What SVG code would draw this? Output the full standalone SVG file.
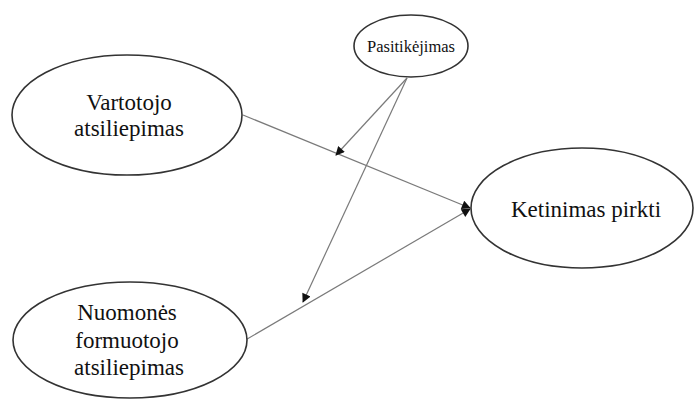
<svg xmlns="http://www.w3.org/2000/svg" width="695" height="399" viewBox="0 0 695 399">
<defs>
<marker id="arr" viewBox="0 0 10 10" refX="9" refY="5" markerWidth="10" markerHeight="9" markerUnits="userSpaceOnUse" orient="auto">
<path d="M0,0 L10,5 L0,10 z" fill="#111"/>
</marker>
<style>
.node ellipse{fill:#fff;stroke:#333;stroke-width:1.6}
.node text{fill:#111;text-anchor:middle}
.edge{stroke:#7a7a7a;stroke-width:1.2;fill:none;marker-end:url(#arr)}
</style>
</defs>
<rect width="695" height="399" fill="#fff"/>
<g id="connectors">
<line class="edge" x1="243" y1="115" x2="470" y2="208"/>
<line class="edge" x1="242" y1="342" x2="470" y2="209"/>
<line class="edge" x1="407" y1="78" x2="336" y2="155"/>
<line class="edge" x1="407" y1="78" x2="303" y2="302"/>
</g>
<g font-family="'Liberation Serif', 'Tinos', 'Times New Roman', 'DejaVu Serif', 'Noto Serif', serif">
<g id="pasitikejimas" class="node">
<ellipse cx="411" cy="46" rx="57" ry="31"/>
<text x="411" y="52" font-size="16.5">Pasitikėjimas</text>
</g>
<g id="vartotojo" class="node">
<ellipse cx="127" cy="115" rx="115" ry="60"/>
<text x="129" y="110" font-size="23">Vartotojo</text>
<text x="129" y="136" font-size="23">atsiliepimas</text>
</g>
<g id="ketinimas" class="node">
<ellipse cx="582" cy="208" rx="111" ry="60"/>
<text x="586" y="217" font-size="23">Ketinimas pirkti</text>
</g>
<g id="nuomones" class="node">
<ellipse cx="130" cy="340" rx="117" ry="58"/>
<text x="127" y="320" font-size="23">Nuomonės</text>
<text x="127" y="348" font-size="23">formuotojo</text>
<text x="129" y="375" font-size="23">atsiliepimas</text>
</g>
</g>
</svg>
